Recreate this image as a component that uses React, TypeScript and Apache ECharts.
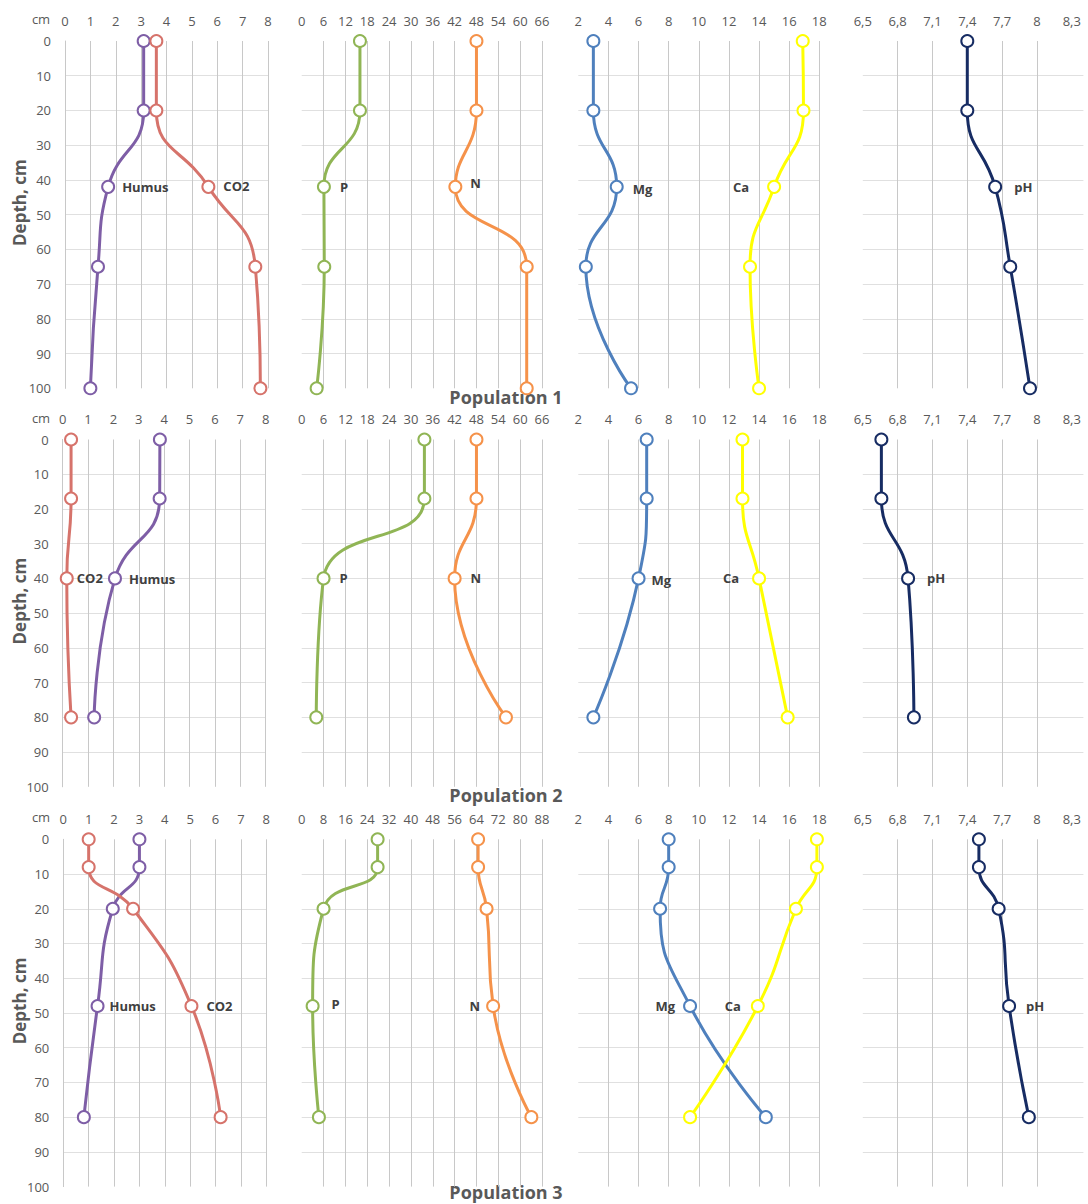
import React, { useEffect, useRef } from 'react';
import * as echarts from 'echarts';

// ---------- Data ----------
const depths1 = [0, 20, 42, 65, 100];
const depths2 = [0, 17, 40, 80];
const depths3 = [0, 8, 20, 48, 80];

const humus1 = [3.1, 3.1, 1.7, 1.3, 1.0];
const co2_1 = [3.6, 3.6, 5.65, 7.5, 7.7];
const p1 = [16, 16, 6.1, 6.2, 4.1];
const n1 = [48, 48, 42.2, 61.8, 61.8];
const mg1 = [3.0, 3.0, 4.55, 2.5, 5.5];
const ca1 = [16.9, 16.95, 15.0, 13.4, 14.0];
const ph1 = [7.4, 7.4, 7.64, 7.77, 7.94];

const humus2 = [3.83, 3.82, 2.06, 1.24];
const co2_2 = [0.33, 0.33, 0.16, 0.33];
const p2 = [33.7, 33.7, 6.0, 4.0];
const n2 = [48, 48, 42, 56.1];
const mg2 = [6.54, 6.54, 6.0, 3.0];
const ca2 = [12.9, 12.9, 14.0, 15.9];
const ph2 = [6.66, 6.66, 6.89, 6.94];

const humus3 = [3.0, 3.0, 1.95, 1.35, 0.81];
const co2_3 = [1.0, 1.0, 2.75, 5.05, 6.2];
const p3 = [27.8, 27.8, 8.0, 4.0, 6.3];
const n3 = [64.6, 64.6, 67.7, 70.1, 84.1];
const mg3 = [8.0, 8.0, 7.43, 9.42, 14.45];
const ca3 = [17.84, 17.84, 16.45, 13.92, 9.42];
const ph3 = [7.5, 7.5, 7.67, 7.76, 7.93];

const phTicks = [6.5, 6.8, 7.1, 7.4, 7.7, 8.0, 8.3];
const populationTitles = ['Population 1', 'Population 2', 'Population 3'];

// ---------- Styles ----------
const FONT = '"Open Sans", "Noto Sans", sans-serif';
const AXIS_TEXT = '#595959';
const LABEL_TEXT = '#404040';
const COLORS: Record<string, string> = {
  Humus: '#7E5EA6',
  CO2: '#D6736B',
  P: '#90B555',
  N: '#F5924A',
  Mg: '#4F80BD',
  Ca: '#FFFF00',
  pH: '#172C63',
};

const ROW_TOPS = [41, 439.5, 839.3];
const ROW_H = 347.3;
const TITLE_Y = [397, 795, 1192];
const COL1_LEFTS = [65, 62.7, 63.3];
const COLS = [
  { w: 203 },
  { left: 301.7, w: 240.3 },
  { left: 578.3, w: 241 },
  { left: 862.8, w: 220.6 },
];

type SeriesDef = { name: string; values: number[]; li: number; pos: string; dist: number; off?: number[] };

const rows: { depths: number[]; panels: SeriesDef[][]; pnMax: number; pnInt: number }[] = [
  {
    depths: depths1,
    pnMax: 66,
    pnInt: 6,
    panels: [
      [
        { name: 'Humus', values: humus1, li: 2, pos: 'right', dist: 7 },
        { name: 'CO2', values: co2_1, li: 2, pos: 'right', dist: 8, off: [0, -1] },
      ],
      [
        { name: 'P', values: p1, li: 2, pos: 'right', dist: 9 },
        { name: 'N', values: n1, li: 2, pos: 'right', dist: 8, off: [0, -4] },
      ],
      [
        { name: 'Mg', values: mg1, li: 2, pos: 'right', dist: 9, off: [0, 2] },
        { name: 'Ca', values: ca1, li: 2, pos: 'left', dist: 18 },
      ],
      [{ name: 'pH', values: ph1, li: 2, pos: 'right', dist: 12 }],
    ],
  },
  {
    depths: depths2,
    pnMax: 66,
    pnInt: 6,
    panels: [
      [
        { name: 'Humus', values: humus2, li: 2, pos: 'right', dist: 7, off: [0, 1] },
        { name: 'CO2', values: co2_2, li: 2, pos: 'right', dist: 3 },
      ],
      [
        { name: 'P', values: p2, li: 2, pos: 'right', dist: 9 },
        { name: 'N', values: n2, li: 2, pos: 'right', dist: 9 },
      ],
      [
        { name: 'Mg', values: mg2, li: 2, pos: 'right', dist: 6, off: [0, 2] },
        { name: 'Ca', values: ca2, li: 2, pos: 'left', dist: 13 },
      ],
      [{ name: 'pH', values: ph2, li: 2, pos: 'right', dist: 12 }],
    ],
  },
  {
    depths: depths3,
    pnMax: 88,
    pnInt: 8,
    panels: [
      [
        { name: 'Humus', values: humus3, li: 3, pos: 'right', dist: 5 },
        { name: 'CO2', values: co2_3, li: 3, pos: 'right', dist: 8 },
      ],
      [
        { name: 'P', values: p3, li: 3, pos: 'right', dist: 12, off: [0, -2] },
        { name: 'N', values: n3, li: 3, pos: 'left', dist: 6 },
      ],
      [
        { name: 'Mg', values: mg3, li: 3, pos: 'left', dist: 8 },
        { name: 'Ca', values: ca3, li: 3, pos: 'left', dist: 10 },
      ],
      [{ name: 'pH', values: ph3, li: 3, pos: 'right', dist: 10 }],
    ],
  },
];

function buildOption() {
  const grid: any[] = [];
  const xAxis: any[] = [];
  const yAxis: any[] = [];
  const series: any[] = [];
  const graphic: any[] = [];

  rows.forEach((row, r) => {
    row.panels.forEach((panel, c) => {
      const gi = r * 4 + c;
      const left = c === 0 ? COL1_LEFTS[r] : (COLS[c] as any).left;
      grid.push({ left, top: ROW_TOPS[r], width: COLS[c].w, height: ROW_H, containLabel: false });

      const base: any = {
        gridIndex: gi,
        type: 'value',
        position: 'top',
        axisLine: { show: false, onZero: false },
        axisTick: { show: false },
        axisLabel: { color: AXIS_TEXT, fontSize: 13, fontFamily: FONT, margin: 14 },
        splitLine: {
          show: true,
          showMinLine: c === 0,
          showMaxLine: c !== 3,
          lineStyle: { color: '#c8c8c8', width: 1 },
        },
      };
      if (c === 0) Object.assign(base, { min: 0, max: 8, interval: 1 });
      if (c === 1) Object.assign(base, { min: 0, max: row.pnMax, interval: row.pnInt });
      if (c === 2) Object.assign(base, { min: 2, max: 18, interval: 2 });
      if (c === 3) {
        Object.assign(base, { min: 6.5, max: 8.4 });
        base.axisLabel = {
          ...base.axisLabel,
          customValues: phTicks,
          formatter: (v: number) => String(Math.round(v * 10) / 10).replace('.', ','),
        };
        base.axisTick = { show: false, customValues: phTicks };
      }
      xAxis.push(base);

      yAxis.push({
        gridIndex: gi,
        type: 'value',
        inverse: true,
        min: 0,
        max: 100,
        interval: 10,
        axisLine: { show: c === 0, onZero: false, lineStyle: { color: '#c8c8c8', width: 1 } },
        axisTick: { show: false },
        axisLabel: { show: c === 0, color: AXIS_TEXT, fontSize: 13, fontFamily: FONT, margin: 14 },
        splitLine: {
          show: true,
          showMinLine: false,
          showMaxLine: false,
          lineStyle: { color: '#e0e0e0', width: 1 },
        },
      });

      panel.forEach((s) => {
        const color = COLORS[s.name];
        series.push({
          type: 'line',
          name: s.name,
          xAxisIndex: gi,
          yAxisIndex: gi,
          smooth: 0.5,
          symbol: 'circle',
          symbolSize: 12,
          lineStyle: { color, width: 3 },
          itemStyle: { color: '#ffffff', borderColor: color, borderWidth: 2 },
          emphasis: { disabled: true },
          data: s.values.map((v, i) => {
            const pt = [v, row.depths[i]];
            if (i !== s.li) return pt;
            return {
              value: pt,
              label: {
                show: true,
                formatter: '{a}',
                position: s.pos,
                distance: s.dist,
                offset: s.off || [0, 0],
                color: LABEL_TEXT,
                fontWeight: 'bold',
                fontSize: 13,
                fontFamily: FONT,
              },
            };
          }),
        });
      });
    });

    // "cm" caption
    graphic.push({
      type: 'text',
      x: 41,
      y: ROW_TOPS[r] - 22,
      style: {
        text: 'cm',
        fill: AXIS_TEXT,
        font: `13px ${FONT}`,
        textAlign: 'center',
        textVerticalAlign: 'middle',
      },
    });
    // Depth axis title
    graphic.push({
      type: 'text',
      x: 19,
      y: ROW_TOPS[r] + ROW_H / 2 - 12,
      rotation: Math.PI / 2,
      style: {
        text: 'Depth, cm',
        fill: AXIS_TEXT,
        font: `bold 17px ${FONT}`,
        textAlign: 'center',
        textVerticalAlign: 'middle',
      },
    });
    // Population title
    graphic.push({
      type: 'text',
      x: 506,
      y: TITLE_Y[r],
      style: {
        text: populationTitles[r],
        fill: AXIS_TEXT,
        font: `bold 18px ${FONT}`,
        textAlign: 'center',
        textVerticalAlign: 'middle',
      },
    });
  });

  return {
    animation: false,
    backgroundColor: '#ffffff',
    grid,
    xAxis,
    yAxis,
    series,
    graphic,
  };
}

export default function App() {
  const ref = useRef<HTMLDivElement>(null);
  useEffect(() => {
    if (!ref.current) return;
    const chart = echarts.init(ref.current, null, { renderer: 'svg', width: 1088, height: 1204 });
    chart.setOption(buildOption() as any);
    return () => chart.dispose();
  }, []);
  return (
    <div
      ref={ref}
      style={{ position: 'absolute', left: 0, top: 0, width: 1088, height: 1204, background: '#fff' }}
    />
  );
}
